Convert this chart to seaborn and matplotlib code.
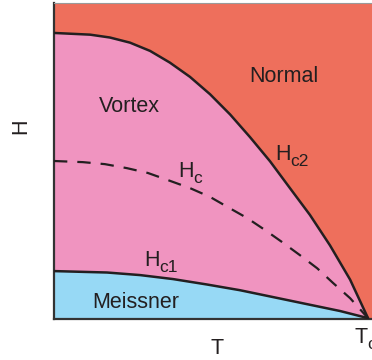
import matplotlib
matplotlib.use("Agg")
import matplotlib.pyplot as plt
import seaborn as sns
import pandas as pd

# Reduced temperature t = T/Tc and reduced field h = H/Hc2(0)
hc2_t = [0.0, 0.115, 0.178, 0.242, 0.306, 0.369, 0.433, 0.497, 0.561, 0.624, 0.688, 0.752, 0.815, 0.879, 0.943, 1.0]
hc2_h = [1.0, 0.994, 0.984, 0.966, 0.937, 0.896, 0.846, 0.785, 0.714, 0.635, 0.550, 0.455, 0.362, 0.255, 0.135, 0.0]

hc_t = [0.0, 0.092, 0.162, 0.232, 0.299, 0.363, 0.433, 0.497, 0.554, 0.615, 0.672, 0.726, 0.783, 0.838, 0.889, 0.943, 1.0]
hc_h = [0.551, 0.547, 0.540, 0.526, 0.509, 0.484, 0.456, 0.425, 0.389, 0.351, 0.309, 0.267, 0.221, 0.175, 0.123, 0.070, 0.0]

hc1_t = [0.0, 0.169, 0.274, 0.379, 0.487, 0.592, 0.697, 0.806, 0.911, 1.0]
hc1_h = [0.165, 0.160, 0.151, 0.137, 0.118, 0.098, 0.074, 0.049, 0.025, 0.0]

region_labels = ["Normal", "Vortex", "Meissner"]
curve_subs = ["c2", "c", "c1"]

RED = "#EE6F5C"
PINK = "#F094C0"
BLUE = "#97D9F5"
INK = "#231F20"

sns.set_theme(style="white")
plt.rcParams["font.family"] = ["Liberation Sans", "DejaVu Sans"]

fig = plt.figure(figsize=(3.72, 3.60), dpi=100)
ax = fig.add_axes([54 / 372, 41 / 360, 318 / 372, 316 / 360])
ax.set_facecolor(RED)

df2 = pd.DataFrame({"t": hc2_t, "h": hc2_h})
dfc = pd.DataFrame({"t": hc_t, "h": hc_h})
df1 = pd.DataFrame({"t": hc1_t, "h": hc1_h})

ax.fill_between(df2["t"], 0, df2["h"], color=PINK, lw=0, zorder=1)
ax.fill_between(df1["t"], 0, df1["h"], color=BLUE, lw=0, zorder=2)

sns.lineplot(data=df2, x="t", y="h", ax=ax, color=INK, lw=1.8, sort=False, zorder=3)
sns.lineplot(data=df1, x="t", y="h", ax=ax, color=INK, lw=1.8, sort=False, zorder=3)
sns.lineplot(data=dfc, x="t", y="h", ax=ax, color=INK, lw=1.6, sort=False, zorder=3,
             linestyle=(0, (6, 4.5)))

ax.set_xlim(0, 1.0127)
ax.set_ylim(-0.003, 1.105)
ax.set_xticks([])
ax.set_yticks([])
ax.set_xlabel("")
ax.set_ylabel("")

for side in ["left", "bottom"]:
    ax.spines[side].set_color("#333333")
    ax.spines[side].set_linewidth(1.6)
ax.spines["top"].set_color("#9a9a9a")
ax.spines["top"].set_linewidth(0.8)
ax.spines["right"].set_visible(False)

fs = 15.5
sub_fs = 12.5
ax.text(0.731, 0.828, region_labels[0], ha="center", va="baseline", fontsize=fs, color=INK)
ax.text(0.239, 0.723, region_labels[1], ha="center", va="baseline", fontsize=fs, color=INK)
ax.text(0.260, 0.035, region_labels[2], ha="center", va="baseline", fontsize=fs, color=INK)


def sub_label(x, y, main, sub, transform=None, dx=11.0, dy=-4.0):
    tr = transform if transform is not None else ax.transData
    ax.text(x, y, main, transform=tr, ha="left", va="baseline", fontsize=fs,
            color=INK, clip_on=False)
    ax.annotate(sub, xy=(x, y), xycoords=tr, xytext=(dx, dy), textcoords="offset points",
                ha="left", va="baseline", fontsize=sub_fs, color=INK, annotation_clip=False)


sub_label(0.704, 0.554, "H", curve_subs[0])
sub_label(0.395, 0.495, "H", curve_subs[1])
sub_label(0.287, 0.182, "H", curve_subs[2])

ax.text(0.514, -0.111, "T", transform=ax.transAxes, ha="center", va="baseline",
        fontsize=fs, color=INK)
sub_label(0.945, -0.076, "T", "c", transform=ax.transAxes, dx=9.0, dy=-4.2)
ax.text(-0.104, 0.611, "H", transform=ax.transAxes, ha="center", va="center",
        rotation=90, fontsize=fs, color=INK)

fig.savefig("out.png", dpi=100)
